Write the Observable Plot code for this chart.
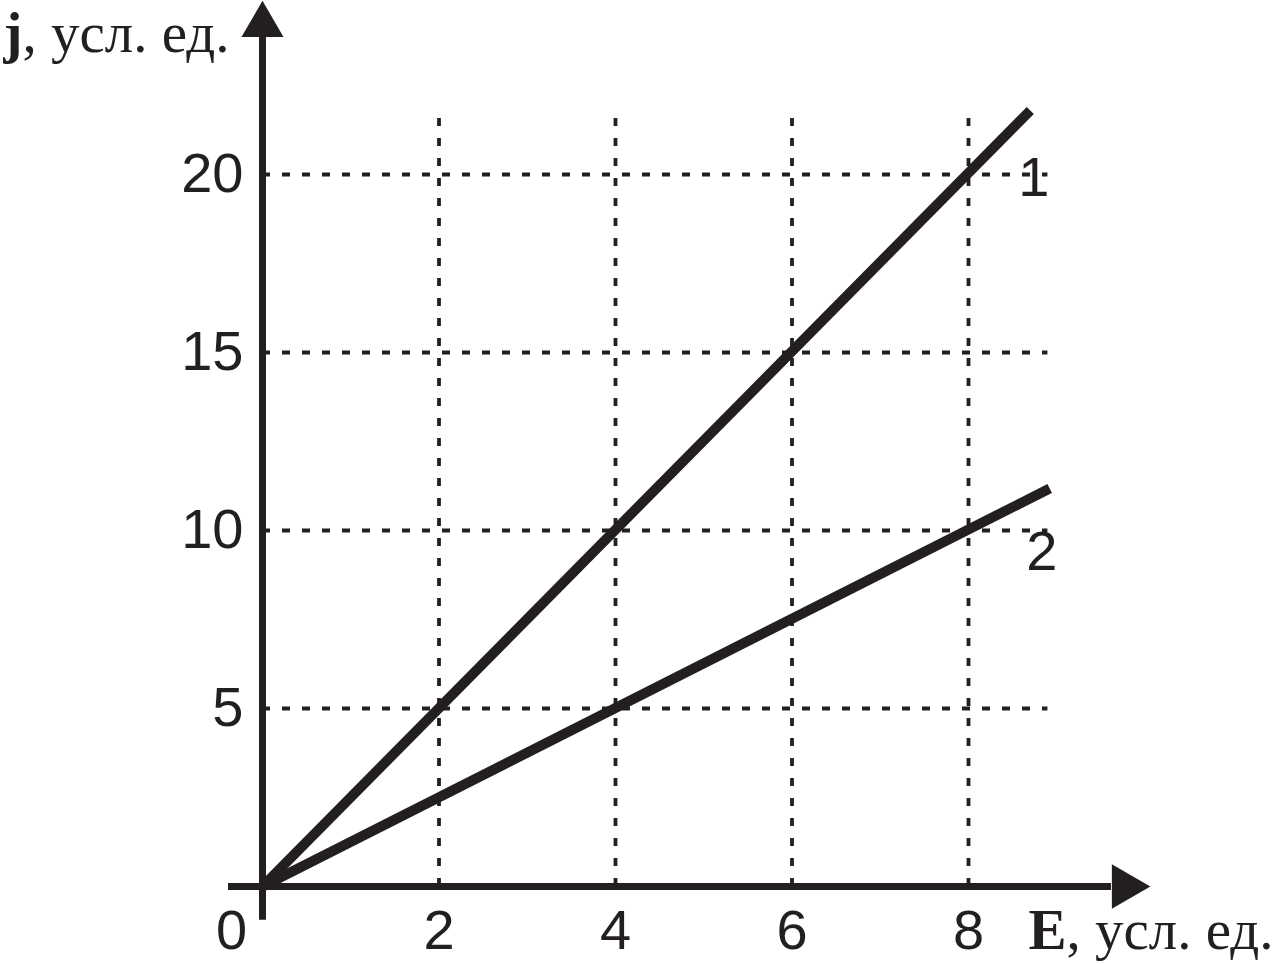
<!DOCTYPE html>
<html>
<head>
<meta charset="utf-8">
<script src="https://cdn.jsdelivr.net/npm/d3@7"></script>
<script src="https://cdn.jsdelivr.net/npm/@observablehq/plot@0.6"></script>
<style>
  html, body { margin: 0; padding: 0; background: #fff; }
  #chart svg { display: block; overflow: visible; }
</style>
</head>
<body>
<div id="chart"></div>
<script>
// ---- data ----
const xTicks = [2, 4, 6, 8];
const yTicks = [5, 10, 15, 20];
const line1E = [0, 8.70];
const line1J = [0, 21.8];
const line2E = [0, 8.92];
const line2J = [0, 11.18];
const seriesNames = ["1", "2"];
const xLabelParts = ["E", ", усл. ед."];
const yLabelParts = ["j", ", усл. ед."];
const originLabel = "0";

const ink = "#231f20";
const line1 = line1E.map((e, i) => ({E: e, j: line1J[i]}));
const line2 = line2E.map((e, i) => ({E: e, j: line2J[i]}));
const seriesLabels = [
  {E: 8.74, j: 19.9, t: seriesNames[0]},
  {E: 8.83, j: 9.4, t: seriesNames[1]}
];

const chart = Plot.plot({
  width: 1276,
  height: 964,
  marginTop: 0, marginRight: 0, marginBottom: 0, marginLeft: 0,
  x: {domain: [0, 10], range: [262, 1144.5], axis: null},
  y: {domain: [0, 25], range: [886, -4], axis: null},
  marks: [
    // grid
    Plot.ruleX(xTicks, {x: d => d, y1: 0, y2: 21.66, stroke: ink, strokeWidth: 3.8, strokeDasharray: "8,12"}),
    Plot.ruleY(yTicks, {y: d => d, x1: 0, x2: 8.9, stroke: ink, strokeWidth: 3.8, strokeDasharray: "8,12"}),
    // axes
    Plot.ruleY([0], {x1: -0.385, x2: 9.62, stroke: ink, strokeWidth: 7}),
    Plot.ruleX([0], {y1: -0.95, y2: 23.85, stroke: ink, strokeWidth: 7}),
    Plot.dot([{E: 9.77, j: 0}], {x: "E", y: "j", symbol: "triangle", r: 16.5, rotate: 90, fill: ink, stroke: "none"}),
    Plot.dot([{E: 0, j: 24.2}], {x: "E", y: "j", symbol: "triangle", r: 15.6, fill: ink, stroke: "none"}),
    // data lines
    Plot.line(line1, {x: "E", y: "j", stroke: ink, strokeWidth: 10, strokeLinecap: "butt"}),
    Plot.line(line2, {x: "E", y: "j", stroke: ink, strokeWidth: 10, strokeLinecap: "butt"}),
    // tick labels
    Plot.text(yTicks, {x: 0, y: d => d, text: d => String(d), dx: -19, textAnchor: "end", fontSize: 56, fontFamily: "Liberation Sans, Arial, sans-serif", fill: ink}),
    Plot.text(xTicks, {x: d => d, y: 0, text: d => String(d), dy: 45, fontSize: 56, fontFamily: "Liberation Sans, Arial, sans-serif", fill: ink}),
    Plot.text([originLabel], {x: 0, y: 0, text: d => d, dx: -31, dy: 45, fontSize: 56, fontFamily: "Liberation Sans, Arial, sans-serif", fill: ink}),
    // series labels
    Plot.text(seriesLabels, {x: "E", y: "j", text: "t", fontSize: 56, fontFamily: "Liberation Sans, Arial, sans-serif", fill: ink}),
    // axis titles
    Plot.text([yLabelParts.join("")], {x: -2.935, y: 23.455, text: d => d, textAnchor: "start", lineAnchor: "bottom", fontSize: 57, fontFamily: "Liberation Serif, Times New Roman, serif", fill: ink}),
    Plot.text([xLabelParts.join("")], {x: 8.68, y: -1.75, text: d => d, textAnchor: "start", lineAnchor: "bottom", fontSize: 57, fontFamily: "Liberation Serif, Times New Roman, serif", fill: ink})
  ]
});

// make the variable letters bold while keeping the text real
function boldFirst(parts) {
  d3.select(chart).selectAll("text").filter(function () {
    return this.textContent === parts.join("");
  }).each(function () {
    const t = d3.select(this);
    t.text(null);
    t.append("tspan").attr("font-weight", "bold").text(parts[0]);
    t.append("tspan").text(parts[1]);
  });
}
boldFirst(yLabelParts);
boldFirst(xLabelParts);

document.getElementById("chart").appendChild(chart);
</script>
</body>
</html>
